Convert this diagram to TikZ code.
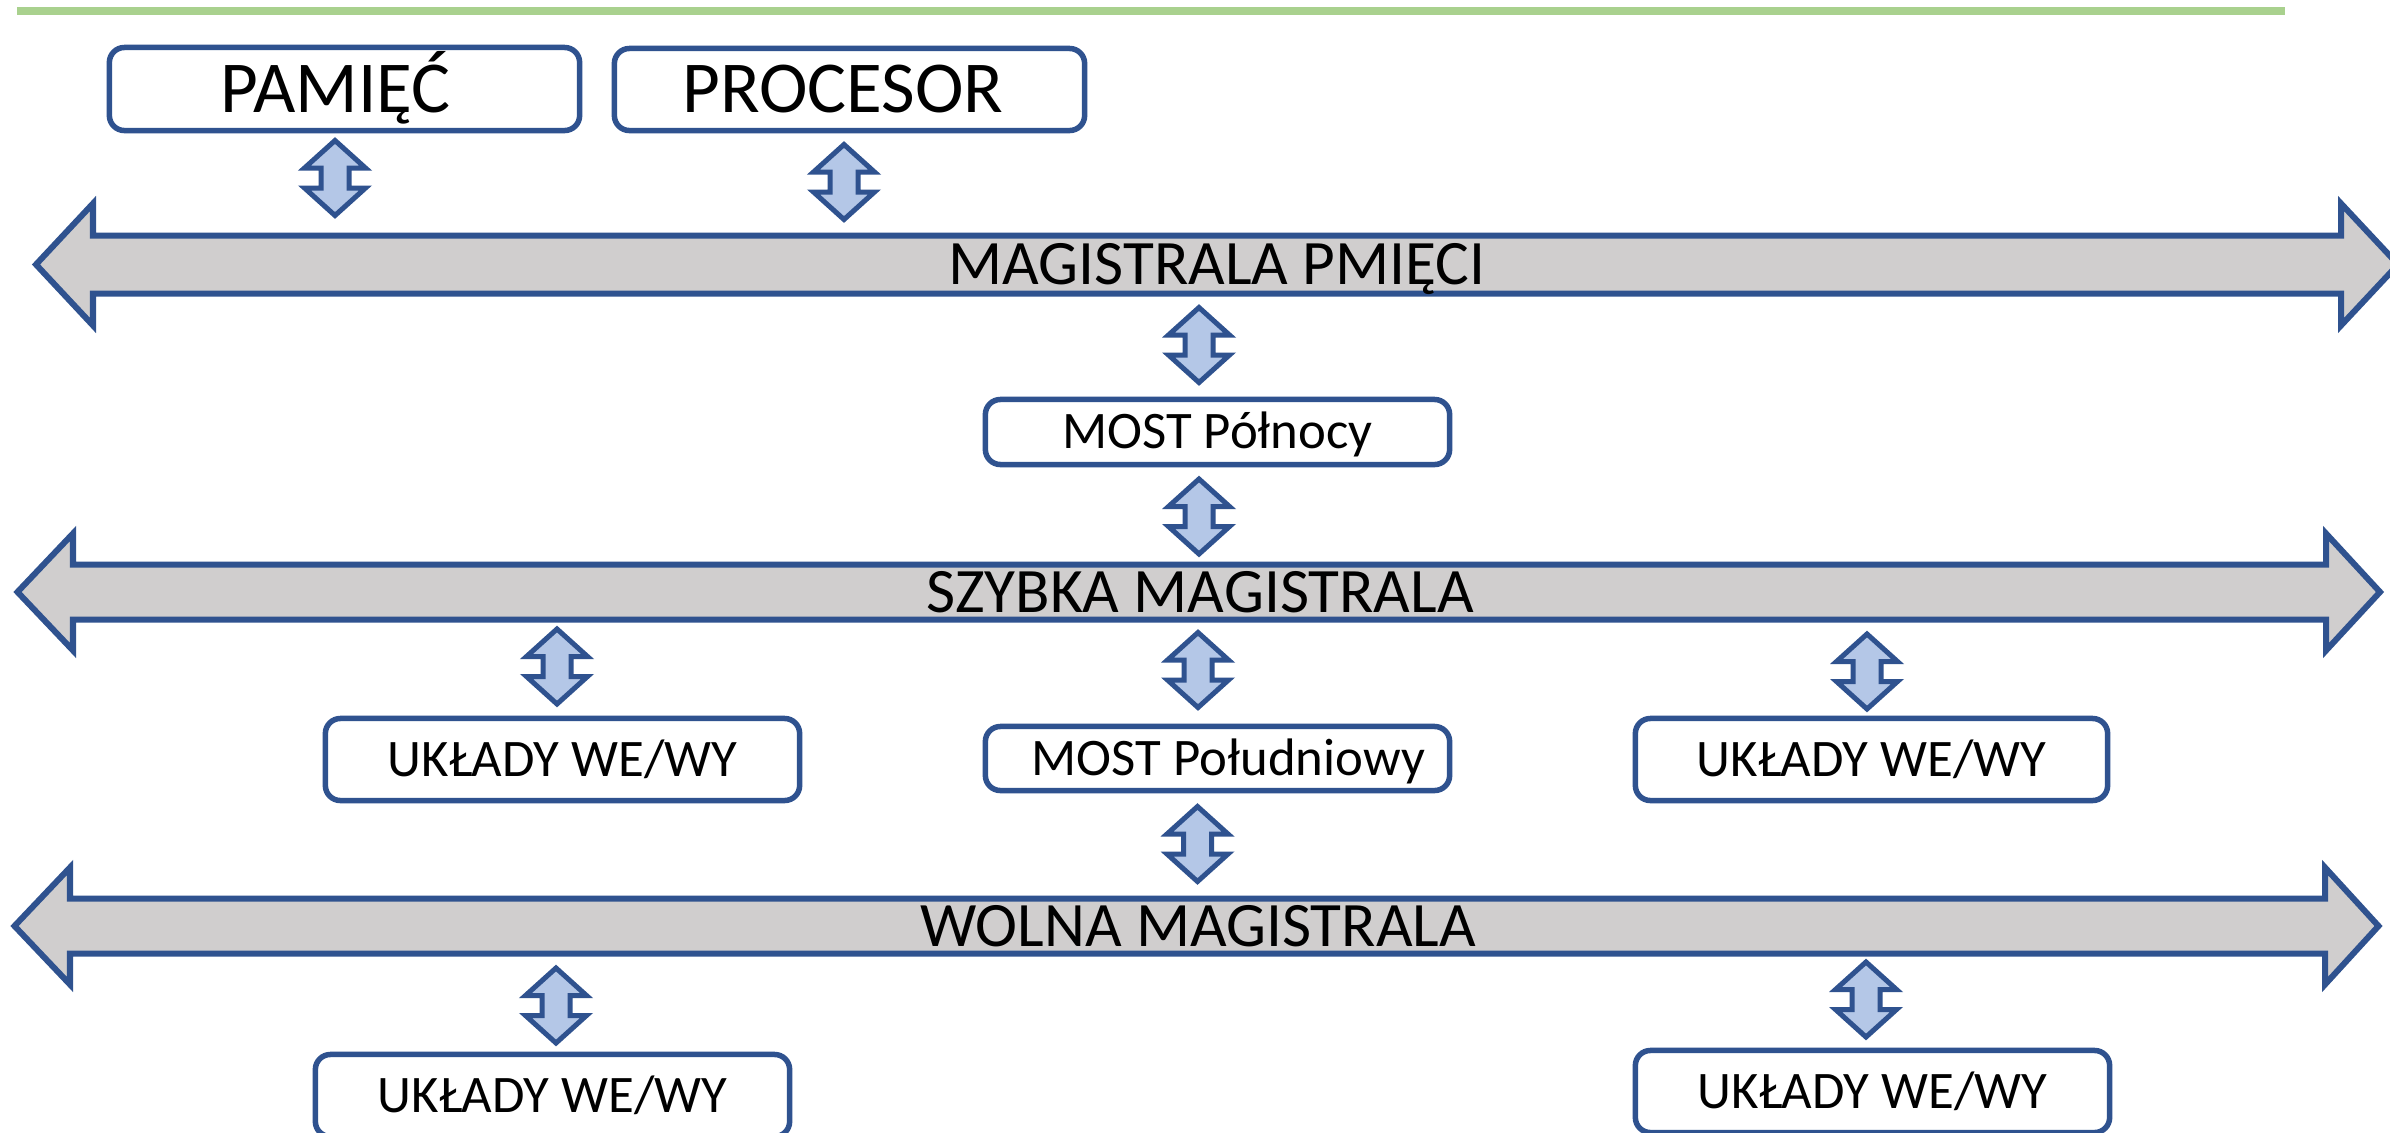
\documentclass[tikz,border=0pt]{standalone}
\usepackage{fontspec}
\setmainfont{Carlito}

\definecolor{edge}{RGB}{47,82,143}
\definecolor{busfill}{RGB}{208,206,206}
\definecolor{linkfill}{RGB}{180,199,231}
\definecolor{topline}{RGB}{169,209,142}

% wide two-headed bus arrow: left tip, left head base, right head base, right tip,
% centre line, half height of the body, half height of the heads
\newcommand{\busshape}[7]{%
  \path[busbody] (#1,#5) -- (#2,#5-#7) -- (#2,#5-#6) -- (#3,#5-#6) -- (#3,#5-#7)
    -- (#4,#5) -- (#3,#5+#7) -- (#3,#5+#6) -- (#2,#5+#6) -- (#2,#5+#7) -- cycle;}

\tikzset{
  unitbox/.style={draw=edge, line width=0.055cm, fill=white, rounded corners=0.15cm,
    inner sep=0pt, minimum width=4.70cm, text depth=0pt},
  bigbox/.style={unitbox, minimum height=0.83cm,
    font=\fontsize{20.8}{25}\selectfont, text height=13.1pt},
  smallbox/.style={unitbox, font=\fontsize{15}{18}\selectfont, text height=9.5pt},
  busbody/.style={draw=edge, line width=0.06cm, fill=busfill, miter limit=10},
  buslabel/.style={inner sep=0pt, font=\fontsize{18}{22}\selectfont,
    text height=11.4pt, text depth=0pt},
  linkarrow/.style={draw=edge, line width=0.05cm, fill=linkfill, miter limit=10},
  updown/.pic={\path[linkarrow] (0,-37.5) -- (30.5,-10) -- (14,-10) -- (14,10)
    -- (30.5,10) -- (0,37.5) -- (-30.5,10) -- (-14,10) -- (-14,-10) -- (-30.5,-10) -- cycle;}
}

\begin{document}
\begin{tikzpicture}[x=0.01cm, y=-0.01cm]
\useasboundingbox (0,0) rectangle (2390,1133);
\fill[white] (0,0) rectangle (2390,1133);

% green rule along the top
\fill[topline] (17,7) rectangle (2285,15);

% the three buses
\busshape{36}{93}{2341}{2398}{264.5}{29}{61}
\busshape{17.5}{73}{2326}{2380}{592}{27.5}{58.5}
\busshape{14.5}{70}{2325}{2378.5}{926}{27.5}{58.5}

\node[buslabel] (bus1) at (1217,264.5) {MAGISTRALA PMIĘCI};
\node[buslabel] (bus2) at (1200,592) {SZYBKA MAGISTRALA};
\node[buslabel] (bus3) at (1198,926) {WOLNA MAGISTRALA};

% units
\node[bigbox] (pam) at (344.5,89) {\hspace*{-0.18cm}PAMIĘĆ};
\node[bigbox, minimum height=0.82cm] (proc) at (849.5,89.5) {\hspace*{-0.13cm}PROCESOR};
\node[smallbox, minimum width=4.64cm, minimum height=0.65cm] (north) at (1217.5,432) {MOST Północy};
\node[smallbox, minimum width=4.64cm, minimum height=0.64cm] (south) at (1217.5,758.5) {\hspace*{0.22cm}MOST Południowy};
\node[smallbox, minimum width=4.74cm, minimum height=0.82cm] (io1) at (562.5,759.5) {UKŁADY WE/WY};
\node[smallbox, minimum width=4.72cm, minimum height=0.82cm] (io2) at (1871.5,759.5) {UKŁADY WE/WY};
\node[smallbox, minimum width=4.74cm, minimum height=0.82cm] (io3) at (552.5,1095.5) {UKŁADY WE/WY};
\node[smallbox, minimum width=4.74cm, minimum height=0.82cm] (io4) at (1872.5,1091.5) {UKŁADY WE/WY};

% two-way links between units and buses
\pic (lpam) at (335,178) {updown};
\pic (lproc) at (844,182) {updown};
\pic (lnorthup) at (1199,345) {updown};
\pic (lnorthdn) at (1199,516.5) {updown};
\pic (lio1) at (557,666.5) {updown};
\pic (lsouthup) at (1198,670) {updown};
\pic (lio2) at (1867,671.5) {updown};
\pic (lsouthdn) at (1197.5,844) {updown};
\pic (lio3) at (556,1005.5) {updown};
\pic (lio4) at (1866,999.5) {updown};
\end{tikzpicture}
\end{document}
